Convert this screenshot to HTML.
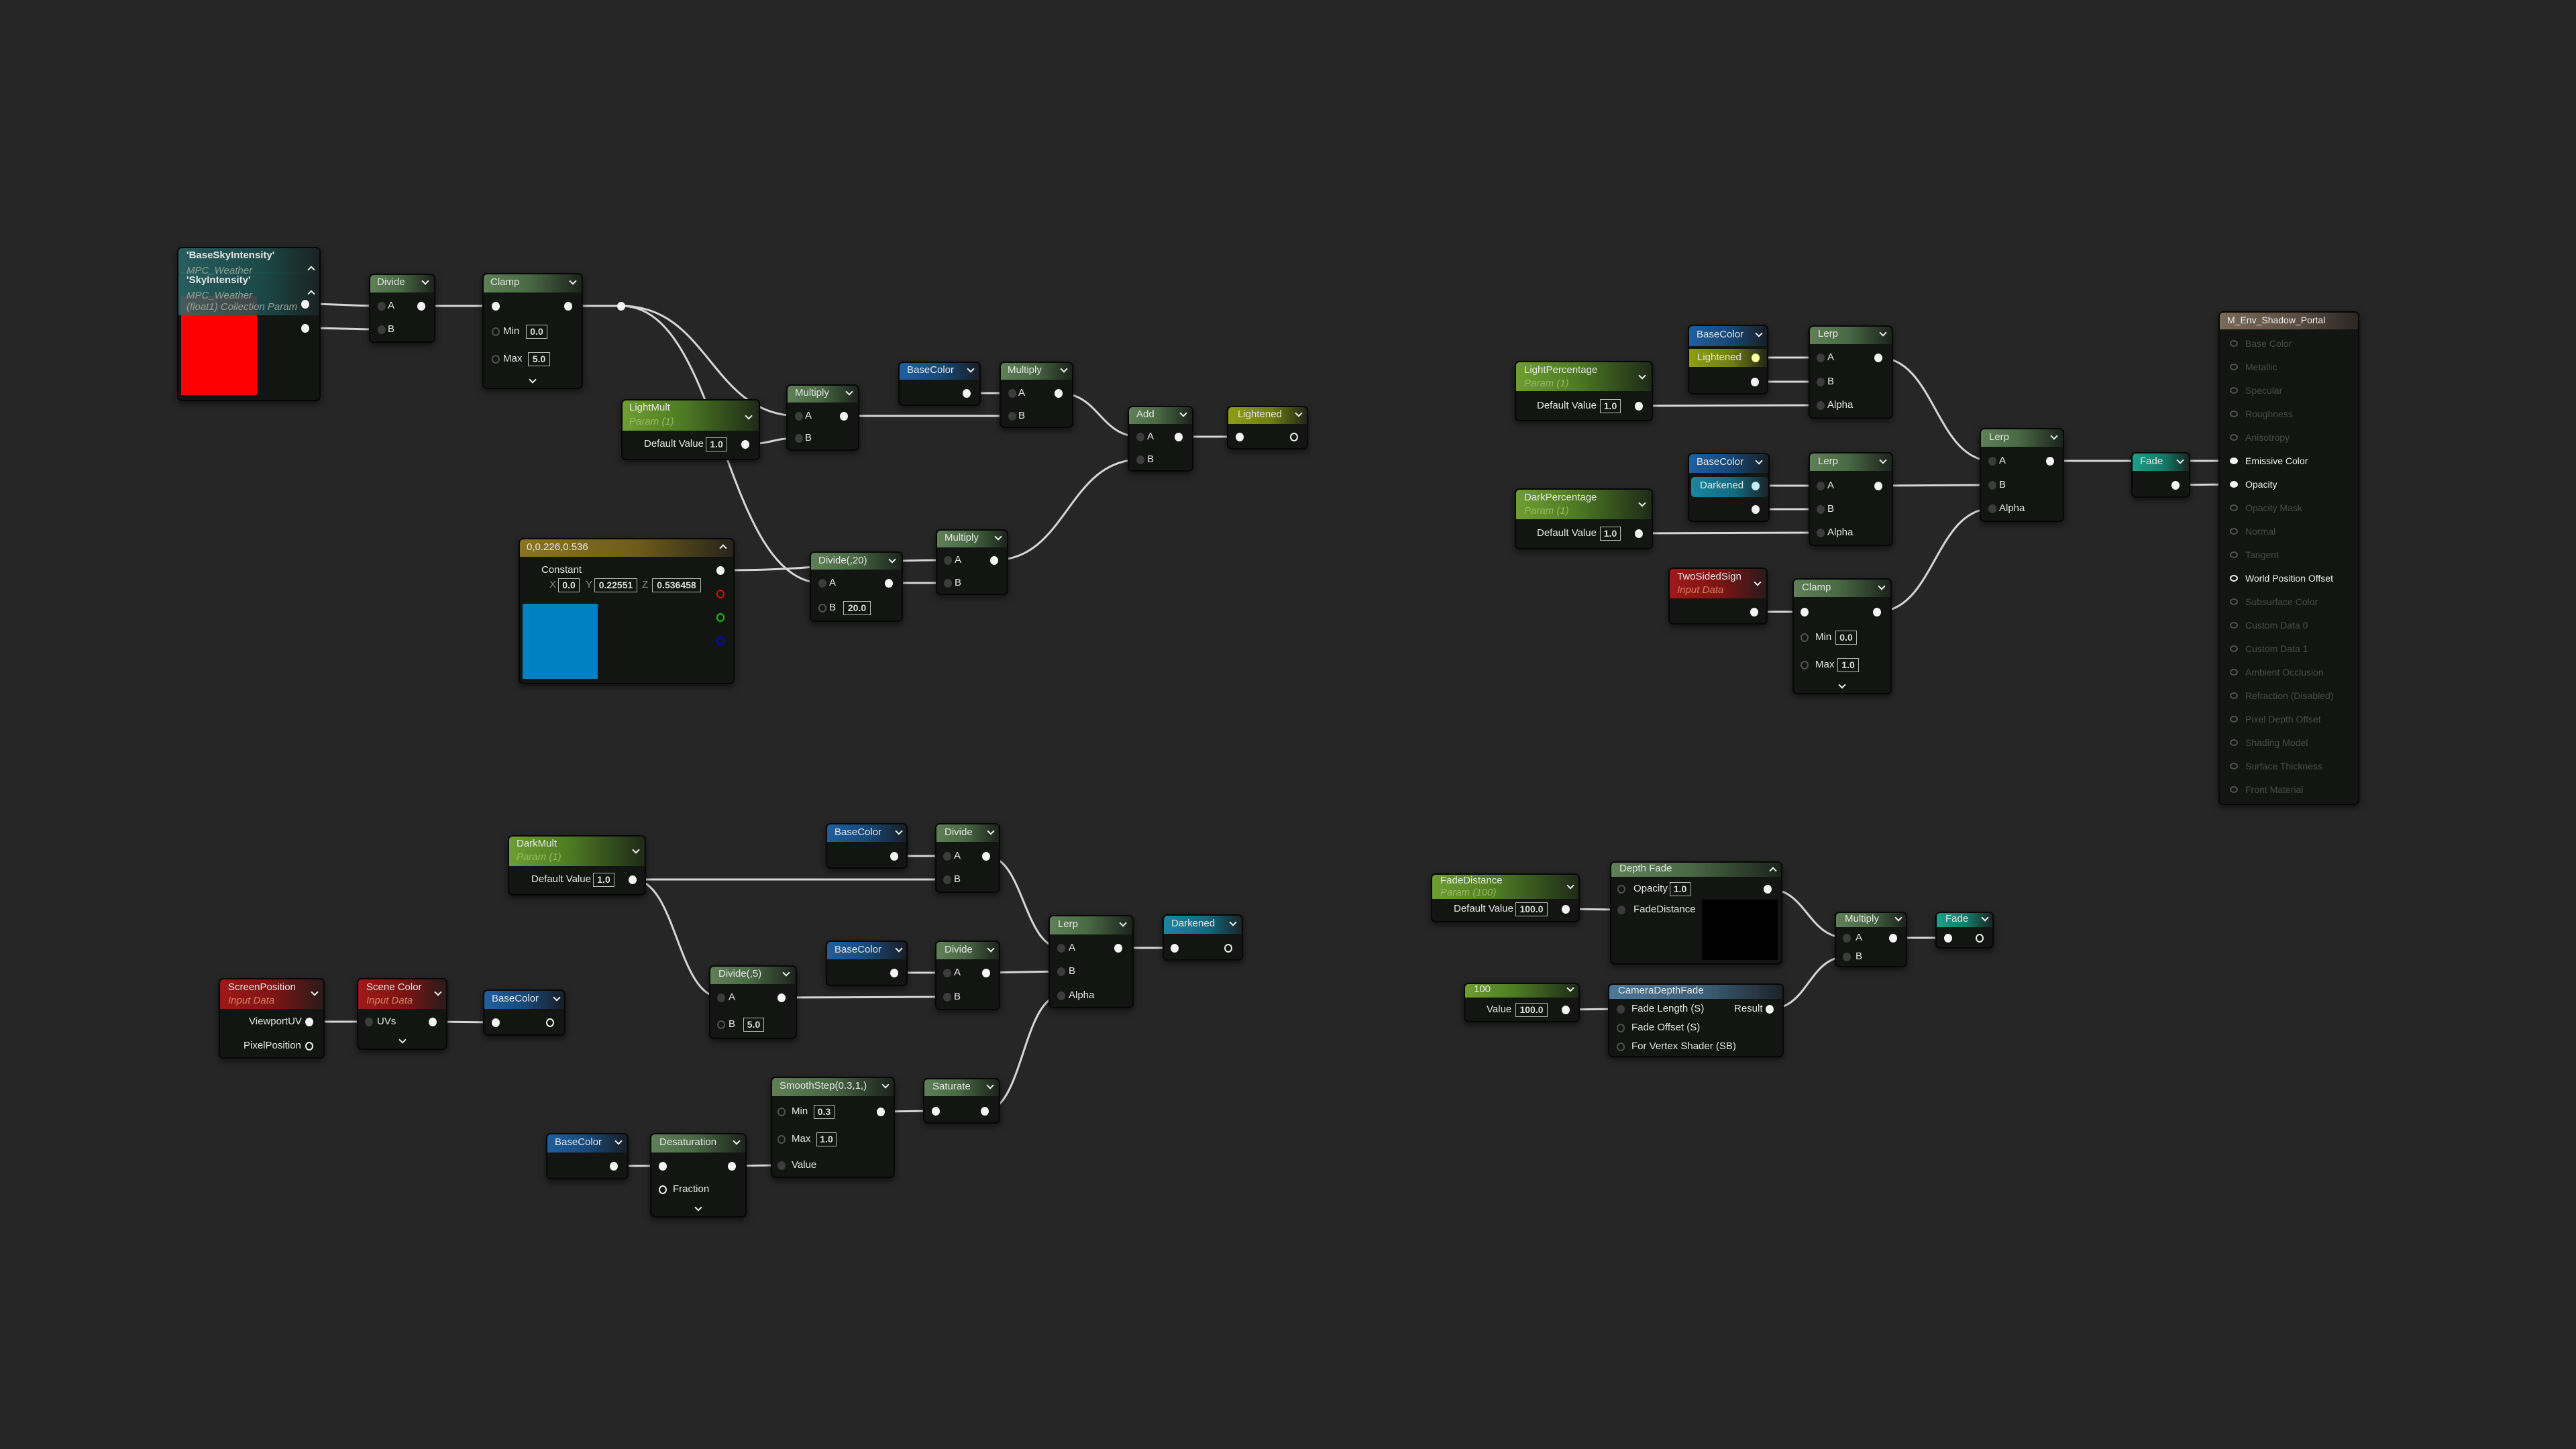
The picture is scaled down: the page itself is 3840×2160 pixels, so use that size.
<!DOCTYPE html>
<html><head><meta charset="utf-8"><style>
body{margin:0;width:3840px;height:2160px;background:#262626;position:relative;overflow:hidden;font-family:"Liberation Sans Narrow","Liberation Sans",sans-serif;color:#e6e6e6;font-size:15px}
svg{position:absolute;left:0;top:0}
.n{position:absolute;background:#131513;border:2px solid #070707;border-radius:7px;box-shadow:0 4px 10px rgba(0,0,0,.55);box-sizing:border-box;overflow:hidden}
.h{position:absolute;left:0;top:0;right:0}
.t{position:absolute;line-height:18px;white-space:nowrap}
.s{font-style:italic}
.p{position:absolute;width:12px;height:13px;border-radius:50%;box-sizing:border-box}
.po{background:#f4f4f4}.pi{background:#3c3c3c}.pe{border:2px solid #505050}.ph{border:2px solid #eee}
.f{position:absolute;border:1px solid #b8b8b8;height:21px;line-height:19px;text-align:center;font-size:14px;box-sizing:border-box;color:#ddd}
.c{position:absolute;width:6px;height:6px;border-right:2px solid #eee;border-bottom:2px solid #eee;transform:rotate(45deg)}
.cu{transform:rotate(-135deg)}
.gf{background:linear-gradient(90deg,#5f7f57,#4a6a45 45%,#1c231c)}
.gp{background:linear-gradient(90deg,#6e9e32,#4d7a22 45%,#1e2a18)}
.bl{background:linear-gradient(90deg,#1f5fa0,#17497a 50%,#181e26)}
.tl{background:linear-gradient(90deg,#1aa088,#137a68 55%,#1a2624)}
.yl{background:linear-gradient(90deg,#8e9e12,#707e10 55%,#22261a)}
.dk{background:linear-gradient(90deg,#1a86a0,#136a80 55%,#1a2428)}
.rd{background:linear-gradient(90deg,#a01818,#801414 50%,#2a1a1a)}
.gd{background:linear-gradient(90deg,#8a7422,#6e5c1a 55%,#26231a)}
.sk{background:linear-gradient(90deg,rgba(42,106,106,.85),rgba(29,80,80,.85) 60%,rgba(26,36,36,.9))}
.cd{background:linear-gradient(90deg,#4e7898,#3c5e78 55%,#1c2228)}
.mt{background:linear-gradient(90deg,#7a6a58,#5a4e42 55%,#2a2624)}
.pg{color:#9ab860}.pr{color:#d08060}.pm{color:#90a090}
.m{font-family:"Liberation Sans",sans-serif;font-size:14px;color:#4a4a4a}
.ma{color:#f0f0f0}
.mp{width:12px;height:10px}
</style></head><body>
<svg width="3840" height="2160" fill="none" stroke="#d6d6d6" stroke-width="3">
<path d="M455 453 C512 453 512 456 569 456"/>
<path d="M455 489 C512 489 512 491 569 491"/>
<path d="M628 456 L739 456"/><path d="M847 456 L926 456"/>
<path d="M926 456 C1058 456 1059 620 1191 620"/>
<path d="M926 456 C1076 456 1076 869 1226 869"/>
<path d="M1111 662 C1151 662 1151 653 1191 653"/>
<path d="M1258 620 L1509 620"/><path d="M1441 586 L1509 586"/>
<path d="M1578 586 C1639 586 1639 651 1700 651"/>
<path d="M1482 835 C1591 835 1591 685 1700 685"/>
<path d="M1757 651 L1848 651"/>
<path d="M1074 850 C1244 850 1244 835 1413 835"/>
<path d="M1325 869 L1413 869"/>
<path d="M2617 533 L2714 533"/><path d="M2616 569 L2714 569"/><path d="M2443 605 L2714 604"/>
<path d="M2800 533 C2885 533 2885 687 2970 687"/>
<path d="M2617 724 L2714 724"/><path d="M2617 759 L2714 759"/><path d="M2443 795 L2714 794"/>
<path d="M2800 724 L2970 723"/><path d="M2615 912 L2690 912"/>
<path d="M2798 912 C2884 912 2884 758 2970 758"/>
<path d="M3056 687 L3177 687"/><path d="M3265 687 L3330 687"/><path d="M3243 723 L3330 722"/>
<path d="M943 1311 L1412 1311"/>
<path d="M943 1311 C1009 1311 1009 1487 1075 1487"/>
<path d="M1333 1276 L1412 1276"/>
<path d="M1470 1276 C1526 1276 1526 1413 1582 1413"/>
<path d="M1333 1450 L1412 1450"/><path d="M1165 1487 L1412 1486"/><path d="M1470 1450 L1582 1448"/>
<path d="M1468 1656 C1525 1656 1525 1484 1582 1484"/>
<path d="M1667 1413 L1751 1413"/><path d="M1313 1657 L1395 1656"/>
<path d="M915 1738 L988 1738"/><path d="M1091 1738 L1165 1737"/>
<path d="M461 1523 L550 1523"/><path d="M645 1523 L739 1524"/>
<path d="M2334 1355 L2417 1356"/>
<path d="M2635 1325 C2694 1325 2694 1398 2753 1398"/>
<path d="M2334 1505 L2416 1504"/>
<path d="M2638 1504 C2696 1504 2696 1426 2753 1426"/>
<path d="M2822 1398 L2904 1398"/>
</svg>

<!-- BaseSky -->
<div class="n" style="left:264px;top:368px;width:214px;height:230px"><div class="h sk" style="height:38px"></div></div>
<div style="position:absolute;left:270px;top:441px;width:113px;height:148px;background:#f00"></div>
<div style="position:absolute;left:266px;top:406px;width:210px;height:64px;border-radius:6px 6px 0 0" class="sk"></div>
<div class="t" style="left:278px;top:372px;font-weight:bold">'BaseSkyIntensity'</div>
<div class="t s pm" style="left:278px;top:395px">MPC_Weather</div>
<div class="t" style="left:278px;top:409px;font-weight:bold">'SkyIntensity'</div>
<div class="t s pm" style="left:278px;top:432px">MPC_Weather</div>
<div class="t s pm" style="left:278px;top:449px">(float1) Collection Param</div>
<i class="c cu" style="left:460px;top:398px"></i><i class="c cu" style="left:460px;top:434px"></i>
<i class="p po" style="left:449px;top:447px"></i><i class="p po" style="left:449px;top:483px"></i>

<!-- Divide -->
<div class="n" style="left:550px;top:408px;width:99px;height:103px"><div class="h gf" style="height:26px"></div></div>
<div class="t" style="left:562px;top:412px">Divide</div><i class="c" style="left:630px;top:415px"></i>
<i class="p pi" style="left:563px;top:450px"></i><div class="t" style="left:578px;top:447px">A</div><i class="p po" style="left:622px;top:450px"></i>
<i class="p pi" style="left:563px;top:485px"></i><div class="t" style="left:578px;top:482px">B</div>

<!-- Clamp -->
<div class="n" style="left:719px;top:407px;width:150px;height:173px"><div class="h gf" style="height:27px"></div></div>
<div class="t" style="left:731px;top:412px">Clamp</div><i class="c" style="left:850px;top:415px"></i>
<i class="p po" style="left:733px;top:450px"></i><i class="p po" style="left:841px;top:450px"></i>
<i class="p pe" style="left:733px;top:488px"></i><div class="t" style="left:750px;top:485px">Min</div><b class="f" style="left:784px;top:484px;width:32px">0.0</b>
<i class="p pe" style="left:733px;top:529px"></i><div class="t" style="left:750px;top:526px">Max</div><b class="f" style="left:787px;top:525px;width:33px">5.0</b>
<i class="c" style="left:790px;top:562px"></i>
<i class="p po" style="left:920px;top:450px"></i>

<!-- LightMult -->
<div class="n" style="left:926px;top:595px;width:207px;height:91px"><div class="h gp" style="height:45px"></div></div>
<div class="t" style="left:938px;top:599px">LightMult</div><div class="t s pg" style="left:938px;top:620px">Param (1)</div>
<i class="c" style="left:1112px;top:616px"></i>
<div class="t" style="left:960px;top:653px">Default Value</div><b class="f" style="left:1052px;top:652px;width:32px">1.0</b><i class="p po" style="left:1105px;top:656px"></i>

<!-- Multiply1 -->
<div class="n" style="left:1172px;top:573px;width:109px;height:99px"><div class="h gf" style="height:25px"></div></div>
<div class="t" style="left:1185px;top:577px">Multiply</div><i class="c" style="left:1262px;top:580px"></i>
<i class="p pi" style="left:1185px;top:614px"></i><div class="t" style="left:1200px;top:611px">A</div><i class="p po" style="left:1252px;top:614px"></i>
<i class="p pi" style="left:1185px;top:647px"></i><div class="t" style="left:1200px;top:644px">B</div>

<!-- BaseColor1 -->
<div class="n" style="left:1339px;top:539px;width:123px;height:66px"><div class="h bl" style="height:25px"></div></div>
<div class="t" style="left:1352px;top:543px">BaseColor</div><i class="c" style="left:1443px;top:546px"></i>
<i class="p po" style="left:1435px;top:580px"></i>

<!-- Multiply2 -->
<div class="n" style="left:1490px;top:539px;width:110px;height:99px"><div class="h gf" style="height:25px"></div></div>
<div class="t" style="left:1502px;top:543px">Multiply</div><i class="c" style="left:1582px;top:546px"></i>
<i class="p pi" style="left:1503px;top:580px"></i><div class="t" style="left:1518px;top:577px">A</div><i class="p po" style="left:1572px;top:580px"></i>
<i class="p pi" style="left:1503px;top:614px"></i><div class="t" style="left:1518px;top:611px">B</div>

<!-- Add -->
<div class="n" style="left:1681px;top:605px;width:98px;height:98px"><div class="h gf" style="height:25px"></div></div>
<div class="t" style="left:1694px;top:609px">Add</div><i class="c" style="left:1760px;top:612px"></i>
<i class="p pi" style="left:1694px;top:645px"></i><div class="t" style="left:1710px;top:642px">A</div><i class="p po" style="left:1751px;top:645px"></i>
<i class="p pi" style="left:1694px;top:679px"></i><div class="t" style="left:1710px;top:676px">B</div>

<!-- Lightened -->
<div class="n" style="left:1829px;top:605px;width:121px;height:65px"><div class="h yl" style="height:25px"></div></div>
<div class="t" style="left:1845px;top:609px">Lightened</div><i class="c" style="left:1932px;top:612px"></i>
<i class="p po" style="left:1842px;top:645px"></i><i class="p ph" style="left:1923px;top:645px"></i>

<!-- Constant -->
<div class="n" style="left:773px;top:802px;width:322px;height:218px"><div class="h gd" style="height:26px"></div></div>
<div class="t" style="left:785px;top:807px">0,0.226,0.536</div><i class="c cu" style="left:1074px;top:813px"></i>
<div class="t" style="left:807px;top:841px">Constant</div>
<div class="t" style="left:819px;top:863px;color:#888">X</div><b class="f" style="left:832px;top:862px;width:32px">0.0</b>
<div class="t" style="left:873px;top:863px;color:#888">Y</div><b class="f" style="left:886px;top:862px;width:64px">0.22551</b>
<div class="t" style="left:957px;top:863px;color:#888">Z</div><b class="f" style="left:972px;top:862px;width:73px">0.536458</b>
<div style="position:absolute;left:779px;top:900px;width:112px;height:112px;background:#0082c2"></div>
<i class="p po" style="left:1068px;top:844px"></i>
<i class="p" style="left:1068px;top:879px;border:2px solid #e00"></i>
<i class="p" style="left:1068px;top:914px;border:2px solid #0c0"></i>
<i class="p" style="left:1068px;top:949px;border:2px solid #00d"></i>

<!-- Divide(,20) -->
<div class="n" style="left:1207px;top:822px;width:139px;height:105px"><div class="h gf" style="height:25px"></div></div>
<div class="t" style="left:1220px;top:827px">Divide(,20)</div><i class="c" style="left:1326px;top:830px"></i>
<i class="p pi" style="left:1220px;top:863px"></i><div class="t" style="left:1236px;top:860px">A</div><i class="p po" style="left:1319px;top:863px"></i>
<i class="p pe" style="left:1220px;top:900px"></i><div class="t" style="left:1236px;top:897px">B</div><b class="f" style="left:1257px;top:896px;width:41px">20.0</b>

<!-- Multiply3 -->
<div class="n" style="left:1395px;top:789px;width:108px;height:98px"><div class="h gf" style="height:25px"></div></div>
<div class="t" style="left:1408px;top:793px">Multiply</div><i class="c" style="left:1484px;top:796px"></i>
<i class="p pi" style="left:1407px;top:829px"></i><div class="t" style="left:1423px;top:826px">A</div><i class="p po" style="left:1476px;top:829px"></i>
<i class="p pi" style="left:1407px;top:863px"></i><div class="t" style="left:1423px;top:860px">B</div>

<!-- LightPercentage -->
<div class="n" style="left:2258px;top:538px;width:206px;height:90px"><div class="h gp" style="height:43px"></div></div>
<div class="t" style="left:2272px;top:543px">LightPercentage</div><div class="t s pg" style="left:2272px;top:563px">Param (1)</div>
<i class="c" style="left:2444px;top:556px"></i>
<div class="t" style="left:2291px;top:596px">Default Value</div><b class="f" style="left:2385px;top:595px;width:31px">1.0</b><i class="p po" style="left:2437px;top:599px"></i>

<!-- BaseColor2 + Lightened -->
<div class="n" style="left:2516px;top:484px;width:120px;height:104px"><div class="h bl" style="height:30px"></div></div>
<div class="t" style="left:2529px;top:490px">BaseColor</div><i class="c" style="left:2618px;top:493px"></i>
<div class="yl" style="position:absolute;left:2518px;top:520px;width:116px;height:27px"></div>
<div class="t" style="left:2530px;top:524px">Lightened</div><i class="p po" style="left:2611px;top:527px;background:#ffffa0"></i>
<i class="p po" style="left:2610px;top:563px"></i>

<!-- Lerp1 -->
<div class="n" style="left:2696px;top:485px;width:126px;height:139px"><div class="h gf" style="height:26px"></div></div>
<div class="t" style="left:2710px;top:489px">Lerp</div><i class="c" style="left:2803px;top:492px"></i>
<i class="p pi" style="left:2708px;top:527px"></i><div class="t" style="left:2724px;top:524px">A</div><i class="p po" style="left:2794px;top:527px"></i>
<i class="p pi" style="left:2708px;top:563px"></i><div class="t" style="left:2724px;top:560px">B</div>
<i class="p pi" style="left:2708px;top:598px"></i><div class="t" style="left:2724px;top:595px">Alpha</div>

<!-- DarkPercentage -->
<div class="n" style="left:2258px;top:728px;width:206px;height:91px"><div class="h gp" style="height:44px"></div></div>
<div class="t" style="left:2272px;top:733px">DarkPercentage</div><div class="t s pg" style="left:2272px;top:753px">Param (1)</div>
<i class="c" style="left:2444px;top:746px"></i>
<div class="t" style="left:2291px;top:786px">Default Value</div><b class="f" style="left:2385px;top:785px;width:31px">1.0</b><i class="p po" style="left:2437px;top:789px"></i>

<!-- BaseColor3 + Darkened -->
<div class="n" style="left:2516px;top:675px;width:122px;height:103px"><div class="h bl" style="height:28px"></div></div>
<div class="t" style="left:2529px;top:680px">BaseColor</div><i class="c" style="left:2618px;top:683px"></i>
<div class="dk" style="position:absolute;left:2521px;top:711px;width:115px;height:30px;border-radius:5px"></div>
<div class="t" style="left:2534px;top:715px">Darkened</div><i class="p po" style="left:2611px;top:718px;background:#c0f0ff"></i>
<i class="p po" style="left:2611px;top:753px"></i>

<!-- Lerp2 -->
<div class="n" style="left:2696px;top:674px;width:126px;height:140px"><div class="h gf" style="height:26px"></div></div>
<div class="t" style="left:2710px;top:679px">Lerp</div><i class="c" style="left:2803px;top:682px"></i>
<i class="p pi" style="left:2708px;top:718px"></i><div class="t" style="left:2724px;top:715px">A</div><i class="p po" style="left:2794px;top:718px"></i>
<i class="p pi" style="left:2708px;top:753px"></i><div class="t" style="left:2724px;top:750px">B</div>
<i class="p pi" style="left:2708px;top:788px"></i><div class="t" style="left:2724px;top:785px">Alpha</div>

<!-- TwoSidedSign -->
<div class="n" style="left:2487px;top:846px;width:148px;height:85px"><div class="h rd" style="height:44px"></div></div>
<div class="t" style="left:2500px;top:851px">TwoSidedSign</div><div class="t s pr" style="left:2500px;top:871px">Input Data</div>
<i class="c" style="left:2616px;top:864px"></i>
<i class="p po" style="left:2609px;top:906px"></i>

<!-- Clamp2 -->
<div class="n" style="left:2672px;top:862px;width:148px;height:173px"><div class="h gf" style="height:26px"></div></div>
<div class="t" style="left:2686px;top:867px">Clamp</div><i class="c" style="left:2801px;top:870px"></i>
<i class="p po" style="left:2684px;top:906px"></i><i class="p po" style="left:2792px;top:906px"></i>
<i class="p pe" style="left:2684px;top:944px"></i><div class="t" style="left:2706px;top:941px">Min</div><b class="f" style="left:2736px;top:940px;width:32px">0.0</b>
<i class="p pe" style="left:2684px;top:985px"></i><div class="t" style="left:2706px;top:982px">Max</div><b class="f" style="left:2739px;top:981px;width:32px">1.0</b>
<i class="c" style="left:2742px;top:1017px"></i>

<!-- Lerp3 -->
<div class="n" style="left:2951px;top:638px;width:126px;height:140px"><div class="h gf" style="height:26px"></div></div>
<div class="t" style="left:2965px;top:643px">Lerp</div><i class="c" style="left:3058px;top:646px"></i>
<i class="p pi" style="left:2964px;top:681px"></i><div class="t" style="left:2980px;top:678px">A</div><i class="p po" style="left:3050px;top:681px"></i>
<i class="p pi" style="left:2964px;top:717px"></i><div class="t" style="left:2980px;top:714px">B</div>
<i class="p pi" style="left:2964px;top:752px"></i><div class="t" style="left:2980px;top:749px">Alpha</div>

<!-- Fade1 -->
<div class="n" style="left:3177px;top:674px;width:88px;height:68px"><div class="h tl" style="height:26px"></div></div>
<div class="t" style="left:3190px;top:679px">Fade</div><i class="c" style="left:3246px;top:682px"></i>
<i class="p po" style="left:3237px;top:717px"></i>

<!-- Material -->
<div class="n" style="left:3307px;top:464px;width:210px;height:736px"><div class="h mt" style="height:25px"></div></div>
<div class="t m ma" style="left:3320px;top:468px;color:#eee">M_Env_Shadow_Portal</div>
<div class="t m" style="left:3347px;top:503px">Base Color</div><i class="p pe mp" style="left:3324px;top:507px"></i>
<div class="t m" style="left:3347px;top:538px">Metallic</div><i class="p pe mp" style="left:3324px;top:542px"></i>
<div class="t m" style="left:3347px;top:573px">Specular</div><i class="p pe mp" style="left:3324px;top:577px"></i>
<div class="t m" style="left:3347px;top:608px">Roughness</div><i class="p pe mp" style="left:3324px;top:612px"></i>
<div class="t m" style="left:3347px;top:643px">Anisotropy</div><i class="p pe mp" style="left:3324px;top:647px"></i>
<div class="t m ma" style="left:3347px;top:678px">Emissive Color</div><i class="p po mp" style="left:3324px;top:682px"></i>
<div class="t m ma" style="left:3347px;top:713px">Opacity</div><i class="p po mp" style="left:3324px;top:717px"></i>
<div class="t m" style="left:3347px;top:748px">Opacity Mask</div><i class="p pe mp" style="left:3324px;top:752px"></i>
<div class="t m" style="left:3347px;top:783px">Normal</div><i class="p pe mp" style="left:3324px;top:787px"></i>
<div class="t m" style="left:3347px;top:818px">Tangent</div><i class="p pe mp" style="left:3324px;top:822px"></i>
<div class="t m ma" style="left:3347px;top:853px">World Position Offset</div><i class="p ph mp" style="left:3324px;top:857px"></i>
<div class="t m" style="left:3347px;top:888px">Subsurface Color</div><i class="p pe mp" style="left:3324px;top:892px"></i>
<div class="t m" style="left:3347px;top:923px">Custom Data 0</div><i class="p pe mp" style="left:3324px;top:927px"></i>
<div class="t m" style="left:3347px;top:958px">Custom Data 1</div><i class="p pe mp" style="left:3324px;top:962px"></i>
<div class="t m" style="left:3347px;top:993px">Ambient Occlusion</div><i class="p pe mp" style="left:3324px;top:997px"></i>
<div class="t m" style="left:3347px;top:1028px">Refraction (Disabled)</div><i class="p pe mp" style="left:3324px;top:1032px"></i>
<div class="t m" style="left:3347px;top:1063px">Pixel Depth Offset</div><i class="p pe mp" style="left:3324px;top:1067px"></i>
<div class="t m" style="left:3347px;top:1098px">Shading Model</div><i class="p pe mp" style="left:3324px;top:1102px"></i>
<div class="t m" style="left:3347px;top:1133px">Surface Thickness</div><i class="p pe mp" style="left:3324px;top:1137px"></i>
<div class="t m" style="left:3347px;top:1168px">Front Material</div><i class="p pe mp" style="left:3324px;top:1172px"></i>

<!-- DarkMult -->
<div class="n" style="left:757px;top:1245px;width:206px;height:90px"><div class="h gp" style="height:44px"></div></div>
<div class="t" style="left:770px;top:1249px">DarkMult</div><div class="t s pg" style="left:770px;top:1269px">Param (1)</div>
<i class="c" style="left:944px;top:1263px"></i>
<div class="t" style="left:792px;top:1302px">Default Value</div><b class="f" style="left:884px;top:1301px;width:32px">1.0</b><i class="p po" style="left:937px;top:1305px"></i>

<!-- BaseColor4 / Divide4 -->
<div class="n" style="left:1231px;top:1227px;width:122px;height:68px"><div class="h bl" style="height:26px"></div></div>
<div class="t" style="left:1244px;top:1232px">BaseColor</div><i class="c" style="left:1336px;top:1235px"></i>
<i class="p po" style="left:1327px;top:1270px"></i>
<div class="n" style="left:1394px;top:1227px;width:97px;height:104px"><div class="h gf" style="height:26px"></div></div>
<div class="t" style="left:1408px;top:1232px">Divide</div><i class="c" style="left:1473px;top:1235px"></i>
<i class="p pi" style="left:1406px;top:1270px"></i><div class="t" style="left:1422px;top:1267px">A</div><i class="p po" style="left:1464px;top:1270px"></i>
<i class="p pi" style="left:1406px;top:1305px"></i><div class="t" style="left:1422px;top:1302px">B</div>

<!-- BaseColor5 / Divide5 -->
<div class="n" style="left:1231px;top:1402px;width:122px;height:68px"><div class="h bl" style="height:26px"></div></div>
<div class="t" style="left:1244px;top:1407px">BaseColor</div><i class="c" style="left:1336px;top:1410px"></i>
<i class="p po" style="left:1327px;top:1444px"></i>
<div class="n" style="left:1394px;top:1402px;width:97px;height:104px"><div class="h gf" style="height:26px"></div></div>
<div class="t" style="left:1408px;top:1407px">Divide</div><i class="c" style="left:1473px;top:1410px"></i>
<i class="p pi" style="left:1406px;top:1444px"></i><div class="t" style="left:1422px;top:1441px">A</div><i class="p po" style="left:1464px;top:1444px"></i>
<i class="p pi" style="left:1406px;top:1480px"></i><div class="t" style="left:1422px;top:1477px">B</div>

<!-- Lerp4 -->
<div class="n" style="left:1563px;top:1364px;width:127px;height:139px"><div class="h gf" style="height:27px"></div></div>
<div class="t" style="left:1577px;top:1369px">Lerp</div><i class="c" style="left:1670px;top:1372px"></i>
<i class="p pi" style="left:1576px;top:1407px"></i><div class="t" style="left:1593px;top:1404px">A</div><i class="p po" style="left:1661px;top:1407px"></i>
<i class="p pi" style="left:1576px;top:1442px"></i><div class="t" style="left:1593px;top:1439px">B</div>
<i class="p pi" style="left:1576px;top:1478px"></i><div class="t" style="left:1593px;top:1475px">Alpha</div>

<!-- Darkened -->
<div class="n" style="left:1733px;top:1363px;width:120px;height:69px"><div class="h dk" style="height:27px"></div></div>
<div class="t" style="left:1746px;top:1368px">Darkened</div><i class="c" style="left:1834px;top:1371px"></i>
<i class="p po" style="left:1745px;top:1407px"></i><i class="p ph" style="left:1825px;top:1407px"></i>

<!-- Divide(,5) -->
<div class="n" style="left:1057px;top:1439px;width:131px;height:110px"><div class="h gf" style="height:26px"></div></div>
<div class="t" style="left:1071px;top:1443px">Divide(,5)</div><i class="c" style="left:1168px;top:1446px"></i>
<i class="p pi" style="left:1069px;top:1481px"></i><div class="t" style="left:1086px;top:1478px">A</div><i class="p po" style="left:1159px;top:1481px"></i>
<i class="p pe" style="left:1069px;top:1521px"></i><div class="t" style="left:1086px;top:1518px">B</div><b class="f" style="left:1108px;top:1517px;width:31px">5.0</b>

<!-- ScreenPosition -->
<div class="n" style="left:326px;top:1458px;width:158px;height:120px"><div class="h rd" style="height:44px"></div></div>
<div class="t" style="left:340px;top:1463px">ScreenPosition</div><div class="t s pr" style="left:340px;top:1483px">Input Data</div>
<i class="c" style="left:465px;top:1475px"></i>
<div class="t" style="left:371px;top:1514px">ViewportUV</div><i class="p po" style="left:455px;top:1517px"></i>
<div class="t" style="left:363px;top:1550px">PixelPosition</div><i class="p ph" style="left:455px;top:1553px"></i>

<!-- SceneColor -->
<div class="n" style="left:532px;top:1458px;width:135px;height:107px"><div class="h rd" style="height:44px"></div></div>
<div class="t" style="left:546px;top:1463px">Scene Color</div><div class="t s pr" style="left:546px;top:1483px">Input Data</div>
<i class="c" style="left:649px;top:1475px"></i>
<i class="p pi" style="left:544px;top:1517px"></i><div class="t" style="left:562px;top:1514px">UVs</div><i class="p po" style="left:639px;top:1517px"></i>
<i class="c" style="left:596px;top:1546px"></i>

<!-- BaseColor6 -->
<div class="n" style="left:720px;top:1475px;width:123px;height:69px"><div class="h bl" style="height:27px"></div></div>
<div class="t" style="left:733px;top:1480px">BaseColor</div><i class="c" style="left:826px;top:1483px"></i>
<i class="p po" style="left:733px;top:1518px"></i><i class="p ph" style="left:814px;top:1518px"></i>

<!-- SmoothStep -->
<div class="n" style="left:1149px;top:1605px;width:185px;height:151px"><div class="h gf" style="height:27px"></div></div>
<div class="t" style="left:1162px;top:1610px">SmoothStep(0.3,1,)</div><i class="c" style="left:1316px;top:1613px"></i>
<i class="p pe" style="left:1159px;top:1651px"></i><div class="t" style="left:1180px;top:1648px">Min</div><b class="f" style="left:1213px;top:1647px;width:31px">0.3</b><i class="p po" style="left:1307px;top:1651px"></i>
<i class="p pe" style="left:1159px;top:1692px"></i><div class="t" style="left:1180px;top:1689px">Max</div><b class="f" style="left:1217px;top:1688px;width:30px">1.0</b>
<i class="p pi" style="left:1159px;top:1731px"></i><div class="t" style="left:1180px;top:1728px">Value</div>

<!-- Saturate -->
<div class="n" style="left:1376px;top:1607px;width:115px;height:68px"><div class="h gf" style="height:25px"></div></div>
<div class="t" style="left:1390px;top:1611px">Saturate</div><i class="c" style="left:1472px;top:1614px"></i>
<i class="p po" style="left:1389px;top:1650px"></i><i class="p po" style="left:1462px;top:1650px"></i>

<!-- BaseColor7 / Desaturation -->
<div class="n" style="left:814px;top:1689px;width:123px;height:69px"><div class="h bl" style="height:27px"></div></div>
<div class="t" style="left:827px;top:1694px">BaseColor</div><i class="c" style="left:918px;top:1697px"></i>
<i class="p po" style="left:909px;top:1732px"></i>
<div class="n" style="left:969px;top:1689px;width:144px;height:126px"><div class="h gf" style="height:27px"></div></div>
<div class="t" style="left:983px;top:1694px">Desaturation</div><i class="c" style="left:1094px;top:1697px"></i>
<i class="p po" style="left:982px;top:1732px"></i><i class="p po" style="left:1085px;top:1732px"></i>
<i class="p ph" style="left:982px;top:1767px"></i><div class="t" style="left:1003px;top:1764px">Fraction</div>
<i class="c" style="left:1037px;top:1796px"></i>

<!-- FadeDistance -->
<div class="n" style="left:2133px;top:1302px;width:222px;height:73px"><div class="h gp" style="height:36px"></div></div>
<div class="t" style="left:2147px;top:1304px">FadeDistance</div><div class="t s pg" style="left:2147px;top:1322px">Param (100)</div>
<i class="c" style="left:2337px;top:1316px"></i>
<div class="t" style="left:2167px;top:1346px">Default Value</div><b class="f" style="left:2259px;top:1345px;width:48px">100.0</b><i class="p po" style="left:2328px;top:1349px"></i>

<!-- DepthFade -->
<div class="n" style="left:2400px;top:1284px;width:257px;height:154px"><div class="h gf" style="height:21px"></div></div>
<div class="t" style="left:2414px;top:1286px">Depth Fade</div><i class="c cu" style="left:2639px;top:1294px"></i>
<i class="p pe" style="left:2411px;top:1319px"></i><div class="t" style="left:2435px;top:1316px">Opacity</div><b class="f" style="left:2489px;top:1315px;width:31px">1.0</b><i class="p po" style="left:2629px;top:1319px"></i>
<i class="p pi" style="left:2411px;top:1350px"></i><div class="t" style="left:2435px;top:1347px">FadeDistance</div>
<div style="position:absolute;left:2537px;top:1341px;width:113px;height:90px;background:#000"></div>

<!-- Multiply4 / Fade2 -->
<div class="n" style="left:2735px;top:1359px;width:108px;height:83px"><div class="h gf" style="height:21px"></div></div>
<div class="t" style="left:2750px;top:1361px">Multiply</div><i class="c" style="left:2826px;top:1364px"></i>
<i class="p pi" style="left:2747px;top:1392px"></i><div class="t" style="left:2766px;top:1389px">A</div><i class="p po" style="left:2816px;top:1392px"></i>
<i class="p pi" style="left:2747px;top:1420px"></i><div class="t" style="left:2766px;top:1417px">B</div>
<div class="n" style="left:2885px;top:1359px;width:87px;height:55px"><div class="h tl" style="height:21px"></div></div>
<div class="t" style="left:2900px;top:1361px">Fade</div><i class="c" style="left:2955px;top:1364px"></i>
<i class="p po" style="left:2898px;top:1392px"></i><i class="p ph" style="left:2945px;top:1392px"></i>

<!-- 100 -->
<div class="n" style="left:2182px;top:1465px;width:173px;height:59px"><div class="h gp" style="height:20px"></div></div>
<div class="t" style="left:2197px;top:1466px">100</div><i class="c" style="left:2337px;top:1469px"></i>
<div class="t" style="left:2216px;top:1496px">Value</div><b class="f" style="left:2259px;top:1495px;width:48px">100.0</b><i class="p po" style="left:2328px;top:1499px"></i>

<!-- CameraDepthFade -->
<div class="n" style="left:2397px;top:1466px;width:262px;height:110px"><div class="h cd" style="height:21px"></div></div>
<div class="t" style="left:2412px;top:1468px">CameraDepthFade</div>
<i class="p pi" style="left:2410px;top:1498px"></i><div class="t" style="left:2432px;top:1495px">Fade Length (S)</div>
<div class="t" style="left:2585px;top:1495px">Result</div><i class="p po" style="left:2632px;top:1498px"></i>
<i class="p pe" style="left:2410px;top:1526px"></i><div class="t" style="left:2432px;top:1523px">Fade Offset (S)</div>
<i class="p pe" style="left:2410px;top:1554px"></i><div class="t" style="left:2432px;top:1551px">For Vertex Shader (SB)</div>
</body></html>
